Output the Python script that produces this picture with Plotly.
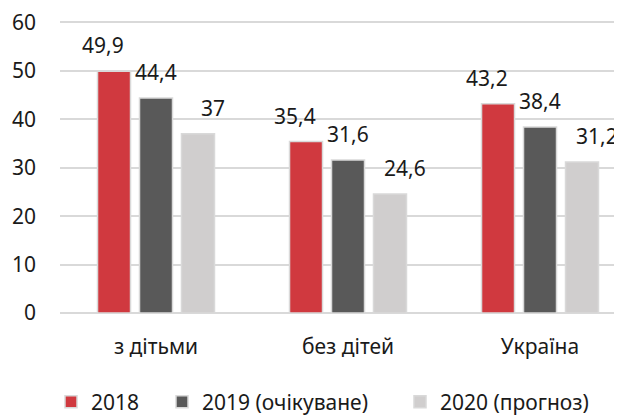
import plotly.graph_objects as go

categories = ["з дітьми", "без дітей", "Україна"]
series_names = ["2018", "2019 (очікуване)", "2020 (прогноз)"]
values_2018 = [49.9, 35.4, 43.2]
values_2019 = [44.4, 31.6, 38.4]
values_2020 = [37, 24.6, 31.2]
y_ticks = [0, 10, 20, 30, 40, 50, 60]

colors = ["#d0393f", "#595959", "#d0cece"]
FONT = "Noto Sans"
FS = 21
TXT = "#1a1a1a"

# the page body has an 8px margin, so the figure is drawn 8px smaller
W, H = 614, 407

def fmt(v):
    s = ("%g" % v)
    return s.replace(".", ",")

fig = go.Figure()
all_vals = [values_2018, values_2019, values_2020]
legend_ids = ["legend", "legend2", "legend3"]
for name, vals, col, lg in zip(series_names, all_vals, colors, legend_ids):
    fig.add_trace(go.Bar(
        x=categories, y=vals, name=name, legend=lg,
        marker=dict(color=col, line=dict(color="#d9d9d9", width=1.5)),
        hoverinfo="skip",
    ))

xshifts = [-53, 0, 57]
for vals, xs in zip(all_vals, xshifts):
    for c, v in zip(categories, vals):
        fig.add_annotation(x=c, y=v, text=fmt(v), showarrow=False,
                           xanchor="center", xshift=xs, yshift=26,
                           font=dict(family=FONT, size=FS, color=TXT))

legend_x_px = [43, 154, 392]
legend_common = dict(orientation="h", xref="container", yref="container",
                     xanchor="left", yanchor="middle", y=1 - 394 / H,
                     font=dict(family=FONT, size=FS, color=TXT),
                     bgcolor="rgba(0,0,0,0)", itemwidth=30)
fig.update_layout(
    legend=dict(x=legend_x_px[0] / W, **legend_common),
    legend2=dict(x=legend_x_px[1] / W, **legend_common),
    legend3=dict(x=legend_x_px[2] / W, **legend_common),
)

fig.update_layout(
    width=W, height=H,
    margin=dict(l=52, r=0, t=13, b=102, autoexpand=False),
    paper_bgcolor="white", plot_bgcolor="white",
    barmode="group", bargap=0.344, bargroupgap=0.214,
    font=dict(family=FONT, size=FS, color=TXT),
    showlegend=True,
    xaxis=dict(range=[-0.5, 2.427], showgrid=False, showline=False, ticks="",
               tickfont=dict(family=FONT, size=FS, color=TXT), ticklabelstandoff=19,
               automargin=False, ticklabeloverflow="allow"),
    yaxis=dict(range=[0, 60.3], tickvals=y_ticks, showgrid=True, gridcolor="#d9d9d9",
               gridwidth=1.5, zeroline=True, zerolinecolor="#d9d9d9", zerolinewidth=2,
               showline=False, ticks="", ticklabelstandoff=23, automargin=False,
               ticklabeloverflow="allow",
               tickfont=dict(family=FONT, size=FS, color=TXT)),
)

fig.write_html("out.html")
